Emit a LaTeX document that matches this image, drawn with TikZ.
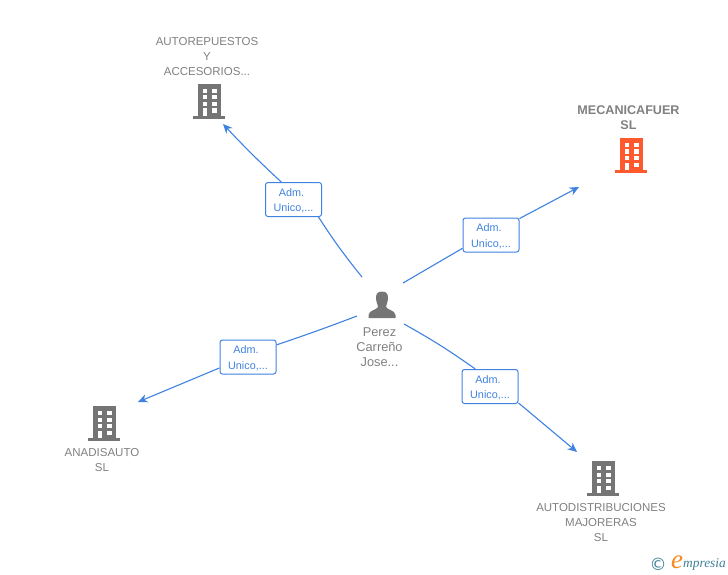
\documentclass[tikz,border=0pt]{standalone}
\usepackage{fontspec}
\setmainfont{Liberation Sans}
\newfontfamily\logofont{Liberation Serif}
\newfontfamily\symfont{DejaVu Sans}
\usetikzlibrary{positioning,arrows.meta}
\definecolor{edgeblue}{HTML}{3F82E0}
\definecolor{labelgray}{HTML}{808080}
\definecolor{icongray}{HTML}{757575}
\definecolor{iconred}{HTML}{FF5A2D}
\definecolor{logoteal}{HTML}{3F7F95}
\definecolor{logoorange}{HTML}{F58A1F}
\newcommand{\admtext}{\rule{0pt}{10pt}Adm.\hspace*{4pt}\\Unico,...}

\begin{document}
\begin{tikzpicture}[
    x=1pt,
    y=-1pt,
    company/.style={text=labelgray, font=\fontsize{11.5}{15}\selectfont, align=center, inner sep=0pt},
    holder/.style={company, font=\fontsize{12.8}{15.3}\selectfont},
    adm/.style={draw=edgeblue, fill=white, rounded corners=2.5pt, line width=1pt, text=edgeblue,
        minimum width=56pt, minimum height=34pt, inner sep=0pt, align=center,
        font=\fontsize{10.8}{15.5}\selectfont},
    link/.style={draw=edgeblue, line width=1.1pt},
    arrowlink/.style={link, -{Stealth[length=9.5pt,width=8.5pt]}},
    building/.pic={
        \fill[#1] (-11.5,-17) rectangle (11.5,15);
        \fill[#1] (-16,15) rectangle (16,17.8);
        \foreach \wy in {-12,-5.5,1} {
            \fill[white] (-6.5,\wy) rectangle (-2.5,\wy+4);
            \fill[white] (2.5,\wy) rectangle (7.5,\wy+4);
        }
        \fill[white] (-6.5,7.5) rectangle (-2.5,15);
        \fill[white] (2.5,7.5) rectangle (7.5,12);
    }
]
    \useasboundingbox (0,0) rectangle (728,575);

    % Companies
    \pic at (209,101) {building=icongray};
    \pic at (631,155) {building=iconred};
    \pic at (104,423) {building=icongray};
    \pic at (603,478) {building=icongray};
    \node[company] (autorepuestos) at (207,56.5) {AUTOREPUESTOS\\Y\\ACCESORIOS...};
    \node[company, font=\fontsize{12.6}{15}\selectfont\bfseries] (mecanicafuer) at (628.5,118) {MECANICAFUER\\SL};
    \node[company] (anadisauto) at (102,460) {ANADISAUTO\\SL};
    \node[company] (autodistribuciones) at (601,522.5) {AUTODISTRIBUCIONES\\MAJORERAS\\SL};

    % Person
    \fill[icongray] (382,291.5) .. controls (377,291.5) and (375.5,295) .. (376,299)
        .. controls (376.5,303) and (378,305) .. (378,307)
        .. controls (377,310) and (369,310) .. (368.5,315) -- (368.5,318) -- (395.5,318) -- (395.5,315)
        .. controls (395,310) and (387,310) .. (386,307)
        .. controls (386,305) and (387.5,303) .. (388,299)
        .. controls (388.5,295) and (387,291.5) .. (382,291.5) -- cycle;
    \node[holder] (perez) at (379.5,347) {Perez\\Carreño\\Jose...};

    % Free ends of the links
    \coordinate (from_auto) at (362,277);
    \coordinate (to_auto) at (223,124);
    \coordinate (from_meca) at (403,283);
    \coordinate (to_meca) at (579,187);
    \coordinate (from_anad) at (357,316);
    \coordinate (to_anad) at (138,402);
    \coordinate (from_dist) at (404,324);
    \coordinate (to_dist) at (577,452);

    % Labels
    \node[adm] (adm_auto) at (293.5,199.5) {\admtext};
    \node[adm] (adm_meca) at (491,235) {\admtext};
    \node[adm] (adm_anad) at (248,357) {\admtext};
    \node[adm] (adm_dist) at (490,386.5) {\admtext};

    % Links
    \path[link] (from_auto) to[bend left=3] (adm_auto.-35);
    \path[arrowlink] (adm_auto.125) to[bend left=2] (to_auto);
    \path[link] (from_meca) -- (adm_meca.205);
    \path[arrowlink] (adm_meca.30) -- (to_meca);
    \path[link] (from_anad) to[bend left=1] (adm_anad.23);
    \path[arrowlink] (adm_anad.201) -- (to_anad);
    \path[link] (from_dist) to[bend left=3] (adm_dist.130);
    \path[arrowlink] (adm_dist.330) -- (to_dist);

    % Logo
    \node[text=logoteal, font=\symfont\fontsize{17}{17}\selectfont, inner sep=0pt] (copyright) at (658,564) {©};
    \node[text=logoorange, font=\logofont\itshape\fontsize{27}{27}\selectfont, inner sep=0pt] (logo_e) at (677,562) {e};
    \node[text=logoteal, font=\logofont\itshape\fontsize{13.4}{14}\selectfont, inner sep=0pt, anchor=west] (logo_rest) at (683,564) {mpresia};
\end{tikzpicture}
\end{document}
